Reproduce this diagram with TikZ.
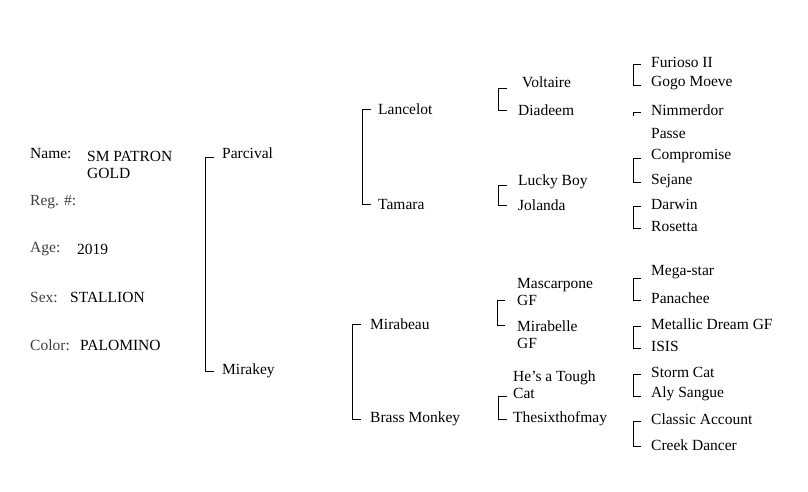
\documentclass[tikz,border=0pt]{standalone}
\usepackage{fontspec}
\setmainfont{Liberation Serif}
\begin{document}
\begin{tikzpicture}[x=1pt,y=-1pt,
  lbl/.style={anchor=west,inner sep=0pt,font=\fontsize{15.5}{17}\selectfont},
  two/.style={lbl,align=left},
  br/.style={line width=0.9pt,black}]
\useasboundingbox (0,0) rectangle (808,491);
\fill[white] (0,0) rectangle (808,491);
% left info
\node[lbl] (n1) at (30,154) {Name:};
\node[two] (n2) at (87,165) {SM PATRON\\GOLD};
\node[lbl,text=black!75] (r1) at (30,202) {Reg. \#:};
\node[lbl,text=black!75] (a1) at (30,249) {Age:};
\node[lbl] (a2) at (77,249) {2019};
\node[lbl,text=black!75] (s1) at (30,297) {Sex:};
\node[lbl] (s2) at (70,297) {STALLION};
\node[lbl,text=black!75] (c1) at (30,345) {Color:};
\node[lbl] (c2) at (80,345) {PALOMINO};
% gen1
\node[lbl] (g1a) at (222,153) {Parcival};
\node[lbl] (g1b) at (222,371) {Mirakey};
\draw[br] (214,157)--(205,157)--(205,371)--(214,371);
% gen2
\node[lbl] (g2a) at (378,109) {Lancelot};
\node[lbl] (g2b) at (378,204) {Tamara};
\draw[br] (371,109)--(362,109)--(362,204)--(371,204);
\node[lbl] (g2c) at (370,324) {Mirabeau};
\node[lbl] (g2d) at (370,419) {Brass Monkey};
\draw[br] (361,324)--(352,324)--(352,419)--(361,419);
% gen3
\node[lbl] (g3a) at (522,82) {Voltaire};
\node[lbl] (g3b) at (518,110) {Diadeem};
\draw[br] (507,88)--(498,88)--(498,110)--(507,110);
\node[lbl] (g3c) at (518,182) {Lucky Boy};
\node[lbl] (g3d) at (518,205) {Jolanda};
\draw[br] (507,185)--(498,185)--(498,205)--(507,205);
\node[two] (g3e) at (517,292) {Mascarpone\\GF};
\node[two] (g3f) at (517,335) {Mirabelle\\GF};
\draw[br] (505,300)--(497,300)--(497,325)--(505,325);
\node[two] (g3g) at (513,385) {He's a Tough\\Cat};
\node[lbl] (g3h) at (513,419) {Thesixthofmay};
\draw[br] (507,396)--(498,396)--(498,419)--(507,419);
% gen4
\node[lbl] (h1) at (651,62) {Furioso II};
\node[lbl] (h2) at (651,83) {Gogo Moeve};
\draw[br] (641,64)--(633,64)--(633,85)--(641,85);
\node[lbl] (h3) at (651,110) {Nimmerdor};
\node[lbl] (h4) at (651,133) {Passe};
\draw[br] (641,112)--(633,112)--(633,116);
\node[lbl] (h5) at (651,156) {Compromise};
\node[lbl] (h6) at (651,181) {Sejane};
\draw[br] (641,158)--(633,158)--(633,182)--(641,182);
\node[lbl] (h7) at (651,204) {Darwin};
\node[lbl] (h8) at (651,226) {Rosetta};
\draw[br] (641,206)--(633,206)--(633,228)--(641,228);
\node[lbl] (h9) at (651,272) {Mega-star};
\node[lbl] (h10) at (651,298) {Panachee};
\draw[br] (641,278)--(633,278)--(633,300)--(641,300);
\node[lbl] (h11) at (651,324) {Metallic Dream GF};
\node[lbl] (h12) at (651,346) {ISIS};
\draw[br] (641,326)--(633,326)--(633,348)--(641,348);
\node[lbl] (h13) at (651,372) {Storm Cat};
\node[lbl] (h14) at (651,394) {Aly Sangue};
\draw[br] (641,374)--(633,374)--(633,396)--(641,396);
\node[lbl] (h15) at (651,419) {Classic Account};
\node[lbl] (h16) at (651,445) {Creek Dancer};
\draw[br] (641,421)--(633,421)--(633,446)--(641,446);
\end{tikzpicture}
\end{document}
